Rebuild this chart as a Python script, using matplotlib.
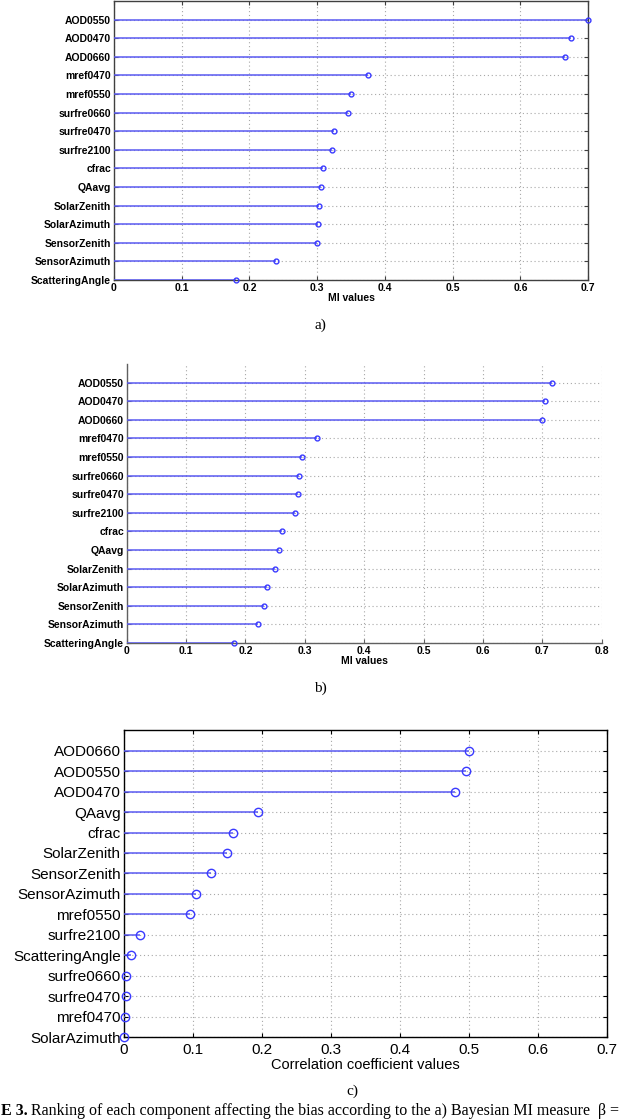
import matplotlib.pyplot as plt
import numpy as np

# panel a) Bayesian MI ranking
names_a = ["AOD0550", "AOD0470", "AOD0660", "mref0470", "mref0550", "surfre0660",
           "surfre0470", "surfre2100", "cfrac", "QAavg", "SolarZenith", "SolarAzimuth",
           "SensorZenith", "SensorAzimuth", "ScatteringAngle"]
vals_a = [0.700, 0.674, 0.666, 0.375, 0.350, 0.345, 0.325, 0.322, 0.308, 0.305,
          0.303, 0.301, 0.300, 0.239, 0.180]

# panel b) MI ranking
names_b = ["AOD0550", "AOD0470", "AOD0660", "mref0470", "mref0550", "surfre0660",
           "surfre0470", "surfre2100", "cfrac", "QAavg", "SolarZenith", "SolarAzimuth",
           "SensorZenith", "SensorAzimuth", "ScatteringAngle"]
vals_b = [0.717, 0.705, 0.699, 0.320, 0.296, 0.291, 0.288, 0.284, 0.261, 0.257,
          0.250, 0.236, 0.231, 0.222, 0.181]

# panel c) correlation coefficient ranking
names_c = ["AOD0660", "AOD0550", "AOD0470", "QAavg", "cfrac", "SolarZenith",
           "SensorZenith", "SensorAzimuth", "mref0550", "surfre2100", "ScatteringAngle",
           "surfre0660", "surfre0470", "mref0470", "SolarAzimuth"]
vals_c = [0.500, 0.495, 0.480, 0.194, 0.158, 0.150, 0.127, 0.105, 0.096, 0.024,
          0.011, 0.0043, 0.004, 0.0015, 0.001]

xt_a = [0, 0.1, 0.2, 0.3, 0.4, 0.5, 0.6, 0.7]
xt_b = [0, 0.1, 0.2, 0.3, 0.4, 0.5, 0.6, 0.7, 0.8]
xt_c = [0, 0.1, 0.2, 0.3, 0.4, 0.5, 0.6, 0.7]

plt.rcParams['font.family'] = ['Liberation Sans', 'DejaVu Sans']

fig = plt.figure(figsize=(6.4, 11.2), dpi=100)

line_col = "#5a5af2"
mark_col = "#3a3aff"


def stem_panel(ax, names, vals, xticks, fs, weight, ms, box, spine_col, xpad):
    n = len(names)
    y = np.arange(n)[::-1]
    ax.hlines(y, 0, vals, color=line_col, linewidth=1.1, zorder=3)
    ax.plot(vals, y, "o", mfc="none", mec=mark_col, ms=ms, mew=1.0, zorder=4, clip_on=False)
    ax.set_ylim(0, n)
    ax.set_xlim(xticks[0], xticks[-1])
    ax.set_yticks(y)
    ax.set_yticklabels(names, fontsize=fs, fontweight=weight)
    ax.set_xticks(xticks)
    ax.set_xticklabels([("%g" % t) for t in xticks], fontsize=fs, fontweight=weight)
    ax.grid(True, linestyle=(0, (1, 2.5)), color="#a8a8a8", linewidth=0.8)
    ax.set_axisbelow(True)
    ax.tick_params(direction="in", length=3, width=0.8, pad=2, color=spine_col,
                   top=box, right=box)
    ax.tick_params(axis="x", pad=xpad)
    for s in ax.spines.values():
        s.set_color(spine_col)
        s.set_linewidth(1.0)
    if not box:
        ax.spines["top"].set_visible(False)
        ax.spines["right"].set_visible(False)


ax_a = fig.add_axes([0.178, 0.75, 0.741, 0.249])
stem_panel(ax_a, names_a, vals_a, xt_a, 7.5, "bold", 3.5, True, "#404040", 2)
ax_a.set_xlabel("MI values", fontsize=7.5, fontweight="bold", labelpad=0)

ax_b = fig.add_axes([0.198, 0.426, 0.742, 0.249])
stem_panel(ax_b, names_b, vals_b, xt_b, 7.5, "bold", 3.5, False, "#606060", 2)
ax_b.set_xlabel("MI values", fontsize=7.5, fontweight="bold", labelpad=0)

ax_c = fig.add_axes([0.193, 0.074, 0.756, 0.274])
stem_panel(ax_c, names_c, vals_c, xt_c, 11, "normal", 6, True, "#000000", 4)
ax_c.set_xlabel("Correlation coefficient values", fontsize=10.5, labelpad=1)

serif = ['Liberation Serif', 'DejaVu Serif']
fig.text(0.5, 1 - 325 / 1120, "a)", ha="center", va="center", fontsize=11, family=serif)
fig.text(0.5, 1 - 688 / 1120, "b)", ha="center", va="center", fontsize=11, family=serif)
fig.text(352 / 640, 1 - 1091 / 1120, "c)", ha="center", va="center", fontsize=11, family=serif)

fig.text(0.002, 1 - 1115 / 1120, "E 3.", ha="left", va="baseline", fontsize=11.5,
         fontweight="bold", family=serif)
fig.text(31 / 640, 1 - 1115 / 1120,
         "Ranking of each component affecting the bias according to the a) Bayesian MI measure  \u03b2 =",
         ha="left", va="baseline", fontsize=11.5, family=serif)

fig.savefig("out.png", dpi=100)
